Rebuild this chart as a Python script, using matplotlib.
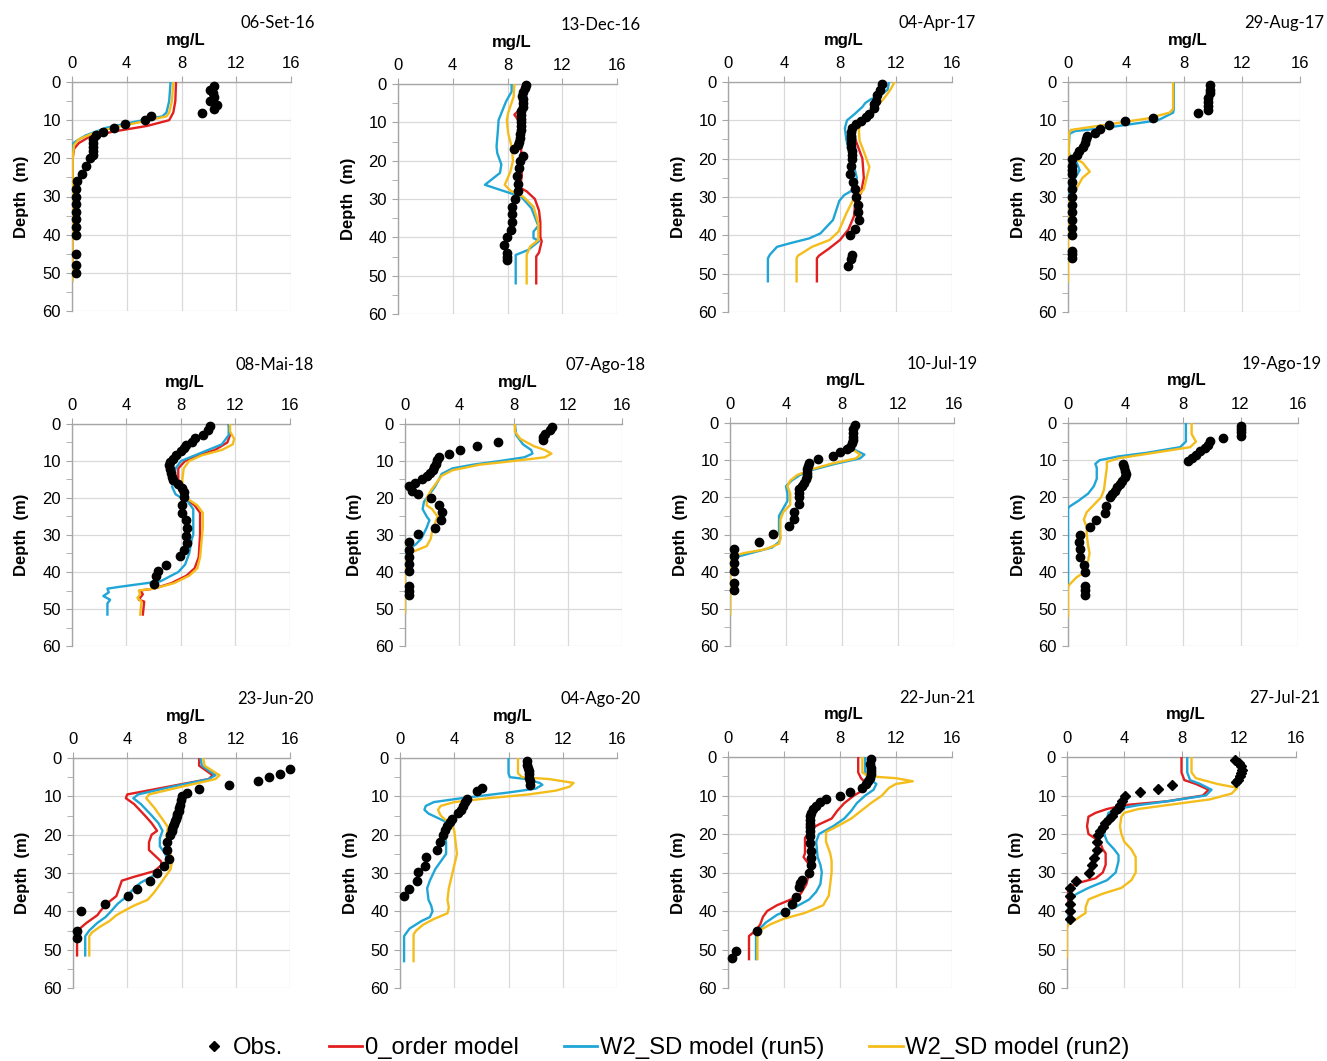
import matplotlib
matplotlib.use("Agg")
import matplotlib.pyplot as plt
from matplotlib.lines import Line2D
from matplotlib.ticker import MultipleLocator

# --- data: (value mg/L, depth m) ---
dates = ["06-Set-16", "13-Dec-16", "04-Apr-17", "29-Aug-17",
         "08-Mai-18", "07-Ago-18", "10-Jul-19", "19-Ago-19",
         "23-Jun-20", "04-Ago-20", "22-Jun-21", "27-Jul-21"]

sep16_obs = [(10.4, 1), (10.1, 2), (10.3, 3), (10.4, 4), (10.1, 5), (10.6, 6), (10.4, 7), (9.5, 8),
             (5.8, 9), (5.3, 10), (3.9, 11), (3.1, 12), (2.25, 13), (1.75, 14), (1.5, 15), (1.5, 16),
             (1.55, 17), (1.55, 18), (1.5, 19), (1.3, 20), (1.0, 22), (0.75, 24), (0.4, 26), (0.3, 28),
             (0.3, 30), (0.3, 32), (0.3, 34), (0.3, 36), (0.3, 38), (0.3, 40), (0.3, 45), (0.3, 48), (0.3, 50)]
sep16_red = [(7.6, 0), (7.55, 5), (7.4, 8), (7.1, 10), (5.5, 11.5), (3.0, 13), (1.2, 14.5), (0.5, 16),
             (0.15, 17.5), (0.05, 20), (0, 52)]
sep16_blue = [(7.2, 0), (7.1, 5), (6.9, 8), (6.6, 9), (4.5, 10.5), (2.5, 12), (1.0, 14), (0.3, 15.5),
              (0.1, 16), (0, 20), (0, 52)]
sep16_yel = [(7.4, 0), (7.3, 5), (7.1, 8), (6.9, 9), (5.0, 10.5), (3.0, 12), (1.5, 13.5), (0.5, 15),
             (0.15, 16.5), (0.05, 20), (0, 52)]

dec16_obs = [(9.35, 0.3), (9.3, 1), (9.1, 2), (9.05, 3), (9.1, 4), (9.1, 5), (9.1, 6), (9.0, 7), (8.95, 8),
             (8.95, 9), (9.0, 10), (8.95, 11), (9.0, 12), (8.9, 13), (8.9, 14), (8.85, 15), (8.8, 16),
             (8.5, 17), (9.1, 18.7), (8.9, 20), (8.85, 22), (8.7, 24), (8.75, 26), (8.8, 28), (8.55, 30),
             (8.35, 32), (8.3, 34), (8.3, 36), (8.25, 38), (7.95, 40), (7.75, 42), (7.95, 44), (7.95, 45),
             (7.95, 46)]
dec16_red = [(9.3, 0), (9.1, 5), (8.8, 7), (8.5, 8), (8.9, 10), (9.1, 12), (9.0, 15), (9.0, 20), (9.05, 24),
             (8.9, 27), (9.4, 28), (10.0, 30), (10.3, 33), (10.4, 36), (10.4, 40), (10.5, 41), (10.3, 44),
             (10.1, 45), (10.1, 52)]
dec16_blue = [(8.3, 0), (8.3, 2), (7.9, 4.5), (7.35, 9.4), (7.3, 12), (7.2, 16.3), (7.25, 18), (7.55, 21),
              (7.45, 23.2), (6.35, 26.3), (7.45, 27.6), (9.0, 29.4), (9.75, 32.4), (10.25, 37), (9.9, 38.5),
              (9.9, 40.2), (10.3, 41), (9.5, 43.3), (8.6, 44.6), (8.6, 52)]
dec16_yel = [(8.5, 0), (8.45, 3.3), (8.05, 7.5), (7.95, 9.4), (8.05, 12.9), (8.3, 16.3), (8.4, 20),
             (8.2, 23), (7.8, 26.3), (8.2, 27.8), (9.15, 29.4), (9.9, 32), (10.25, 36.3), (10.25, 40.7),
             (9.65, 42.4), (9.4, 44.6), (9.4, 52)]

apr17_obs = [(10.98, 0.6), (10.83, 2.2), (10.64, 3.5), (10.6, 4.9), (10.43, 5.8), (10.4, 6.9), (10.1, 8.4),
             (9.88, 9.2), (9.52, 10.1), (9.17, 11), (8.88, 12), (8.8, 13.1), (8.8, 14), (8.8, 15), (8.75, 16),
             (8.8, 17), (8.85, 18), (8.85, 19), (8.85, 20), (8.76, 22), (8.7, 24), (8.93, 26), (9.05, 28),
             (9.17, 30), (9.3, 32), (9.3, 34), (9.36, 36), (9.1, 38.3), (8.7, 40), (8.88, 45.2), (8.8, 46.2),
             (8.6, 48.1)]
apr17_red = [(11.0, 0), (10.8, 3), (10.5, 6), (10.0, 9), (9.3, 11), (9.0, 12), (9.1, 15), (9.6, 20),
             (9.7, 25), (9.5, 29), (9.1, 31), (9.0, 35), (8.6, 38.5), (8.0, 41.2), (7.2, 43.5), (6.5, 45.3),
             (6.35, 46), (6.35, 52)]
apr17_blue = [(11.5, 0), (11.4, 2), (10.9, 3.5), (10.2, 4.5), (9.8, 5.5), (9.6, 6.5), (9.0, 8.5), (8.5, 10),
              (8.35, 12), (8.45, 15), (8.7, 19), (9.0, 22), (9.2, 25), (9.0, 28), (8.3, 29.5), (7.95, 31),
              (7.5, 36), (6.6, 39.5), (5.8, 40.8), (4.5, 42), (3.5, 43), (3.0, 45), (2.85, 46), (2.85, 52)]
apr17_yel = [(11.9, 0), (11.6, 2), (11.2, 4), (10.5, 7), (9.9, 10), (9.4, 11), (9.35, 12.7), (9.4, 15.3),
             (9.76, 18.7), (10.1, 22.2), (9.9, 25), (9.7, 28), (9.2, 30), (8.93, 30.8), (8.45, 34.3),
             (7.9, 39), (7.26, 41.2), (6.0, 43), (5.0, 45.3), (4.9, 46), (4.9, 52)]

aug17_obs = [(9.76, 0.9), (9.76, 2), (9.76, 3), (9.64, 4.2), (9.64, 5.2), (9.64, 6.3), (9.64, 7.4),
             (8.98, 8.2), (5.85, 9.3), (3.9, 10.1), (2.8, 11.1), (2.18, 12.2), (1.84, 13.2), (1.3, 14.1),
             (1.26, 15), (1.15, 16), (1.03, 17), (0.76, 18), (0.62, 19), (0.25, 20), (0.25, 22), (0.25, 23),
             (0.25, 24), (0.25, 26), (0.25, 28), (0.25, 30), (0.25, 32), (0.25, 34), (0.25, 36), (0.25, 38),
             (0.25, 40), (0.25, 44), (0.25, 45), (0.25, 46)]
aug17_red = []
aug17_blue = [(7.3, 0), (7.3, 7), (7.25, 8), (6.2, 10), (2.5, 12), (0.5, 12.8), (0.1, 13.5), (0.05, 18),
              (0.1, 19), (0.6, 21), (0.8, 23), (0.5, 25), (0.05, 27), (0, 30), (0, 35)]
aug17_yel = [(7.25, 0), (7.25, 7), (7.0, 8), (5.5, 9.5), (2.0, 11.5), (0.2, 12.5), (0.05, 13.5), (0.05, 19),
             (0.2, 19.5), (1.0, 21), (1.5, 23.4), (1.0, 25), (0.7, 27), (0.4, 29), (0, 30), (0, 52)]

may18_obs = [(10.1, 0.6), (10.0, 1.7), (9.6, 3), (9.0, 3.9), (8.8, 4.8), (8.4, 5.7), (8.2, 6.5), (8.0, 7.4),
             (7.6, 8.4), (7.4, 9.4), (7.2, 10.2), (7.1, 11.1), (7.2, 12.1), (7.3, 13.2), (7.35, 14.2),
             (7.4, 15.2), (7.8, 16.3), (8.1, 17.4), (8.2, 18.5), (8.2, 19.6), (8.1, 21.9), (8.1, 24.1),
             (8.4, 25.9), (8.45, 28.2), (8.4, 30.4), (8.45, 32.2), (8.25, 34), (7.9, 35.8), (6.9, 38),
             (6.3, 39.8), (6.2, 41.2), (6.0, 43.2)]
may18_red = [(11.5, 0), (11.6, 3), (11.4, 5), (10.5, 7), (9.3, 8.5), (8.3, 10), (7.8, 12), (7.8, 15),
             (7.9, 18), (8.2, 20), (9.0, 22), (9.4, 24), (9.4, 30), (9.3, 36), (9.0, 39), (8.4, 41),
             (7.3, 43), (6.0, 44.5), (5.0, 45), (5.2, 46), (4.9, 47.5), (5.3, 48), (5.2, 51.5)]
may18_blue = [(11.5, 0), (11.5, 3), (11.0, 5.5), (10.0, 7), (9.0, 8.5), (8.0, 10), (7.6, 12), (7.5, 15),
              (7.35, 17), (7.6, 19), (8.5, 21), (8.9, 23), (8.9, 30), (8.8, 31), (8.6, 35), (8.3, 38),
              (7.8, 40), (6.5, 42.5), (5.5, 43), (3.5, 44), (2.6, 44.5), (2.7, 45.5), (2.3, 46.5),
              (2.8, 47.5), (2.6, 48.5), (2.6, 51.5)]
may18_yel = [(11.6, 0), (11.6, 2), (11.9, 4), (11.8, 5.5), (11.0, 7), (9.5, 8.5), (8.6, 10), (8.2, 12),
             (8.1, 15), (8.1, 18), (8.4, 20), (9.2, 22), (9.6, 24), (9.6, 28), (9.5, 32), (9.4, 36),
             (9.2, 39), (8.6, 41), (7.5, 43), (6.0, 44.5), (4.9, 45), (5.0, 46), (4.8, 47), (5.1, 48),
             (5.0, 51.5)]

ago18_obs = [(10.87, 0.8), (10.67, 1.7), (10.3, 2.6), (10.2, 3.5), (10.2, 4.2), (6.87, 4.9), (5.28, 6),
             (4.05, 6.9), (3.24, 8), (2.5, 8.9), (2.38, 9.8), (2.26, 10.7), (2.13, 11.6), (2.04, 12.3),
             (1.84, 13.2), (1.6, 14.1), (1.23, 15), (0.74, 15.9), (0.3, 16.8), (0.5, 18.1), (0.98, 19),
             (1.9, 19.9), (2.53, 21.9), (2.7, 23.9), (2.62, 25.9), (2.2, 28), (0.98, 29.8), (0.3, 31.9),
             (0.3, 34), (0.3, 36), (0.3, 37.8), (0.3, 39.8), (0.3, 43.9), (0.3, 45), (0.3, 46.1)]
ago18_red = []
ago18_blue = [(8.1, 0), (8.2, 3), (8.7, 5.5), (9.3, 7), (9.4, 8), (8.8, 9), (7.0, 10), (5.0, 11), (3.5, 12),
              (2.7, 13.5), (2.5, 15), (2.2, 17), (1.8, 19), (1.4, 21), (1.3, 23), (1.6, 25), (1.8, 26),
              (1.6, 28), (1.2, 31), (0.8, 32.5), (0.4, 33.5), (0.1, 34.5), (0, 36), (0, 51)]
ago18_yel = [(8.1, 0), (8.1, 2), (8.5, 4), (9.5, 6), (10.3, 7), (10.8, 8), (10.3, 9), (8.0, 10), (5.5, 11),
             (3.5, 12.5), (2.7, 14), (2.3, 16), (1.9, 18), (1.6, 20), (1.6, 22), (2.0, 23), (2.4, 25),
             (2.2, 27), (2.0, 29), (1.9, 31), (1.6, 33), (0.6, 34.5), (0.1, 35.5), (0, 40), (0, 51)]

jul19_obs = [(8.92, 0.5), (8.8, 1.7), (8.75, 2.6), (8.75, 3.7), (8.75, 4.6), (8.68, 5.5), (8.56, 6.4),
             (8.39, 7.1), (7.85, 7.8), (7.37, 8.9), (6.28, 9.8), (5.66, 10.7), (5.59, 11.6), (5.52, 12.5),
             (5.47, 13.4), (5.47, 14.3), (5.42, 15.2), (5.3, 16.1), (5.11, 17), (4.94, 17.8), (4.94, 18.7),
             (4.94, 19.8), (4.94, 21.9), (4.56, 23.9), (4.56, 25.7), (4.2, 27.7), (3.09, 29.8), (2.07, 31.9),
             (0.28, 34), (0.28, 35.8), (0.28, 37.8), (0.28, 39.8), (0.28, 43), (0.28, 45)]
jul19_red = []
jul19_blue = [(8.7, 0), (8.8, 7), (9.6, 8.5), (9.3, 9.5), (7.5, 11), (6.0, 12.5), (5.0, 14), (4.4, 15.5),
              (4.0, 17), (4.1, 19), (4.1, 21), (3.8, 23), (3.5, 25), (3.5, 29), (3.6, 31), (3.5, 32),
              (3.0, 33.5), (1.5, 35), (0.3, 36.2), (0.1, 37), (0, 40), (0, 51.5)]
jul19_yel = [(8.7, 0), (8.7, 7), (9.3, 8.5), (9.0, 9.5), (7.2, 11), (5.8, 12.5), (4.8, 14), (4.3, 15.5),
             (4.1, 17), (4.3, 19), (4.3, 22), (3.8, 24), (3.6, 26), (3.6, 31), (3.5, 32.5), (2.5, 34),
             (1.0, 35), (0.2, 35.8), (0, 37), (0, 51.5)]

ago19_obs = [(12.0, 0.7), (12.0, 1.6), (12.0, 2.5), (12.0, 3.4), (10.8, 4), (9.86, 4.9), (9.74, 5.8),
             (9.5, 6.7), (9.2, 7.6), (8.93, 8.5), (8.65, 9.4), (8.35, 10.3), (3.83, 11), (3.87, 11.9),
             (3.94, 12.8), (4.0, 13.7), (3.94, 14.6), (3.78, 15.5), (3.64, 16.4), (3.4, 17.3), (3.25, 18.2),
             (3.09, 19.1), (2.9, 19.9), (2.67, 22.2), (2.55, 24.2), (1.97, 26.2), (1.55, 28), (0.81, 30),
             (0.74, 32), (0.81, 34), (0.86, 36), (1.11, 38.1), (1.16, 40.1), (1.16, 43.9), (1.16, 45),
             (1.16, 46.2)]
ago19_red = []
ago19_blue = [(8.2, 0), (8.2, 5), (7.8, 6.5), (5.5, 8), (3.5, 9), (2.2, 10), (1.9, 11), (2.0, 12), (2.0, 15),
              (1.8, 17), (1.4, 19), (0.7, 21), (0.1, 22.5), (0, 23), (0, 44)]
ago19_yel = [(8.6, 0), (8.6, 3), (8.9, 5), (8.5, 6.5), (6.0, 8), (3.5, 9.5), (2.7, 10.5), (2.7, 12),
             (2.6, 15), (2.5, 18), (2.3, 20), (1.8, 22), (1.3, 24), (1.1, 26), (1.3, 28), (1.3, 30),
             (1.4, 33), (1.5, 35), (1.4, 37), (1.0, 40.5), (0.6, 41.5), (0.1, 43.5), (0, 44), (0, 52)]

jun20_obs = [(15.97, 2.9), (15.26, 4.2), (14.44, 5), (13.65, 6.1), (11.48, 7.1), (9.31, 8), (8.44, 9.1),
             (8.0, 10), (7.95, 11), (7.9, 12.2), (7.85, 13), (7.78, 13.9), (7.7, 14.6), (7.65, 15.2),
             (7.6, 15.9), (7.53, 16.5), (7.45, 17.2), (7.4, 17.8), (7.33, 18.4), (7.28, 19), (7.16, 20),
             (6.91, 22), (6.91, 24.1), (7.1, 26.3), (6.7, 28.1), (6.2, 30), (5.68, 32.2), (4.74, 34.2),
             (4.07, 36.1), (2.35, 38.1), (0.62, 40), (0.3, 45), (0.3, 47)]
jun20_red = [(9.3, 0), (9.3, 2), (10.3, 4.5), (10.0, 5.5), (7.0, 7.5), (4.0, 9.5), (3.9, 10.5), (4.5, 12),
             (5.3, 15), (5.8, 17), (6.2, 19), (5.8, 20), (5.6, 22), (5.6, 24), (5.9, 25), (6.5, 27),
             (6.5, 28), (6.0, 29.5), (4.5, 31), (3.6, 32), (3.4, 34), (3.2, 36), (2.5, 38), (2.0, 40),
             (1.8, 41), (1.0, 43), (0.5, 44.5), (0.3, 45.5), (0.3, 51.5)]
jun20_blue = [(9.4, 0), (9.5, 2), (10.5, 4.5), (10.0, 5.5), (7.3, 7.5), (4.8, 9.5), (4.45, 10.5), (5.0, 12),
              (5.8, 15), (6.3, 17), (6.6, 19), (6.4, 21), (6.4, 23), (6.8, 25), (7.0, 27), (6.8, 28),
              (6.5, 29), (5.8, 31), (5.0, 32.5), (4.5, 34), (4.0, 36), (3.3, 38), (2.8, 40), (2.4, 41.5),
              (1.8, 43), (1.2, 45), (0.9, 46.5), (0.9, 51.5)]
jun20_yel = [(9.6, 0), (9.7, 2), (10.8, 4.5), (10.5, 5.5), (8.0, 7.5), (5.6, 9.5), (5.4, 10.5), (6.0, 13),
             (6.6, 16), (7.0, 18), (6.9, 20), (6.9, 22), (7.2, 25), (7.3, 27), (7.2, 29), (6.8, 31),
             (6.4, 33), (6.0, 35), (5.5, 37), (4.5, 38.5), (3.7, 40), (3.2, 41), (2.7, 42.5), (2.0, 44),
             (1.4, 45.5), (1.2, 46.5), (1.2, 51.5)]

ago20_obs = [(9.4, 0.7), (9.4, 1.7), (9.43, 2.6), (9.48, 3.5), (9.48, 4.3), (9.53, 5.2), (9.56, 6.1),
             (9.56, 7), (6.03, 7.8), (5.67, 8.7), (4.93, 10.7), (4.8, 11.6), (4.63, 12.6), (4.48, 13.5),
             (4.31, 14.3), (3.84, 15.9), (3.65, 16.8), (3.45, 17.8), (3.33, 18.9), (3.2, 20), (2.96, 22),
             (2.7, 24.1), (1.92, 25.9), (1.85, 28.1), (1.35, 29.8), (1.23, 32.2), (0.67, 34.1), (0.3, 36.1)]
ago20_red = []
ago20_blue = [(8.0, 0), (8.0, 4), (8.1, 5), (9.3, 5.5), (10.3, 6.5), (10.5, 7), (10.0, 8), (8.0, 9),
              (4.5, 10.5), (2.5, 11.5), (1.9, 12.5), (1.8, 13.5), (2.1, 14.5), (2.7, 15.5), (3.3, 16.5),
              (3.4, 18), (3.3, 20), (3.4, 22), (3.4, 25), (3.0, 27), (2.6, 29), (2.2, 32), (2.0, 34),
              (2.1, 37), (2.3, 38.5), (2.4, 40), (2.2, 41.5), (1.6, 42.5), (0.7, 44.5), (0.5, 45.5),
              (0.3, 46.5), (0.3, 53)]
ago20_yel = [(8.7, 0), (8.7, 4), (9.0, 5), (11.0, 5.5), (12.8, 6.5), (12.5, 7.5), (11.5, 8.5), (9.5, 9.5),
             (6.5, 10.5), (4.0, 11.5), (3.0, 12.5), (2.8, 13.5), (3.0, 15), (3.3, 16), (3.8, 17), (4.0, 19),
             (4.1, 22), (4.2, 25), (4.0, 28), (3.8, 31), (3.6, 34), (3.5, 37), (3.6, 39), (3.5, 40.5),
             (2.5, 42), (1.7, 43.5), (1.2, 45), (1.0, 46), (1.0, 53)]

jun21_obs = [(10.19, 0.6), (10.17, 1.9), (10.19, 2.8), (10.24, 3.7), (10.24, 4.5), (10.17, 5.4), (10.0, 6.3),
             (9.83, 7.1), (9.55, 8), (8.74, 9.1), (7.98, 10.2), (6.98, 10.9), (6.55, 11.7), (6.31, 12.6),
             (6.07, 13.5), (5.95, 14.5), (5.88, 15.4), (5.88, 16.3), (5.88, 17.3), (5.88, 18.2), (5.88, 19.3),
             (5.88, 20.4), (5.88, 22.3), (5.9, 24.3), (5.9, 26.3), (5.9, 28), (5.76, 30), (5.29, 31.9),
             (5.17, 32.8), (5.07, 33.8), (4.83, 36.3), (4.57, 38.3), (4.05, 40.3), (2.07, 45.1), (0.55, 50.3),
             (0.29, 52.1)]
jun21_red = [(9.3, 0), (9.3, 4), (9.5, 5.5), (9.9, 7), (9.7, 8.5), (9.0, 10), (8.3, 12), (7.8, 14), (7.4, 16),
             (6.5, 17.5), (6.0, 18.5), (5.7, 20), (5.5, 21), (5.5, 25), (5.4, 26), (5.6, 27), (5.8, 28),
             (5.8, 30), (5.6, 33), (5.2, 35.5), (4.5, 37), (3.5, 38.5), (2.8, 40), (2.5, 41.5), (2.3, 43.5),
             (2.0, 45), (1.5, 46.5), (1.5, 52.5)]
jun21_blue = [(9.8, 0), (9.8, 4), (10.0, 5.5), (10.6, 7), (10.4, 8.5), (9.8, 10), (9.2, 12), (8.8, 14),
              (8.3, 16), (7.5, 18), (7.0, 19), (6.5, 20), (6.3, 22), (6.4, 26), (6.6, 28), (6.7, 30),
              (6.6, 33), (6.3, 35), (5.8, 37), (4.8, 39), (3.5, 41), (2.7, 43), (2.3, 44.5), (2.0, 46.5),
              (2.0, 52.5)]
jun21_yel = [(9.6, 0), (9.6, 4), (10.0, 5), (12.0, 5.5), (13.2, 6.3), (12.0, 7), (11.5, 8), (11.0, 10),
             (10.2, 12), (9.5, 14), (8.8, 16), (7.8, 18), (7.0, 19.5), (7.0, 22), (7.3, 25), (7.4, 27),
             (7.4, 30), (7.3, 33), (7.2, 36), (6.8, 38.5), (5.5, 40.5), (4.0, 42), (3.0, 43.5), (2.3, 45),
             (2.1, 46.5), (2.1, 52.5)]

jul21_obs = [(11.72, 0.7), (12.0, 1.6), (12.18, 2.4), (12.23, 3.3), (12.18, 4.2), (12.06, 5), (11.95, 5.9),
             (11.83, 6.5), (7.36, 7.4), (6.33, 8.2), (5.1, 9.2), (4.06, 10.2), (3.83, 11.3), (3.71, 12.4),
             (3.6, 13.2), (3.36, 14.1), (3.13, 15.2), (2.9, 16.1), (2.67, 17.1), (2.5, 18.2), (2.32, 19.1),
             (2.2, 20.2), (2.13, 22.2), (2.09, 24.1), (1.86, 26.2), (1.74, 28.1), (1.51, 30.1), (0.65, 32.1),
             (0.23, 34), (0.23, 36), (0.23, 38.1), (0.23, 40.1), (0.23, 42.1)]
jul21_red = [(8.0, 0), (8.0, 4), (8.2, 6), (9.0, 7), (9.9, 8.5), (9.5, 10), (7.0, 11.5), (4.0, 12.5),
             (2.8, 13.5), (2.0, 14.5), (1.5, 15.5), (1.4, 18), (1.5, 20), (1.9, 21), (2.3, 22), (2.5, 24),
             (2.7, 25), (2.7, 28), (2.5, 30), (2.0, 31.5), (1.0, 32.5), (0.3, 33.5), (0, 35), (0, 44)]
jul21_blue = [(8.4, 0), (8.4, 4), (8.6, 6), (9.3, 7), (10.1, 8.5), (9.7, 10), (7.0, 11.5), (5.0, 12.5),
              (3.5, 13.5), (2.9, 14.5), (2.7, 17), (2.6, 20), (2.8, 22), (3.3, 24), (3.6, 25.5), (3.6, 27),
              (3.4, 30), (2.8, 32), (1.5, 34), (0.7, 35.5), (0.3, 36.5), (0.1, 38), (0, 44)]
jul21_yel = [(8.7, 0), (8.7, 4), (9.0, 5.5), (10.5, 7), (11.9, 8), (11.5, 9.5), (10.0, 11), (7.0, 12.5),
             (5.0, 13.5), (4.0, 14.5), (3.8, 15.5), (3.7, 18), (3.8, 20), (4.0, 22), (4.5, 24), (4.8, 26),
             (4.8, 30), (4.5, 32), (3.8, 34), (2.5, 35.5), (1.5, 37), (1.3, 39), (1.3, 40.5), (0.9, 41.5),
             (0.5, 42.5), (0.1, 43.5), (0, 44), (0, 52)]

obs_sets = [sep16_obs, dec16_obs, apr17_obs, aug17_obs, may18_obs, ago18_obs,
            jul19_obs, ago19_obs, jun20_obs, ago20_obs, jun21_obs, jul21_obs]
red_sets = [sep16_red, dec16_red, apr17_red, aug17_red, may18_red, ago18_red,
            jul19_red, ago19_red, jun20_red, ago20_red, jun21_red, jul21_red]
blue_sets = [sep16_blue, dec16_blue, apr17_blue, aug17_blue, may18_blue, ago18_blue,
             jul19_blue, ago19_blue, jun20_blue, ago20_blue, jun21_blue, jul21_blue]
yel_sets = [sep16_yel, dec16_yel, apr17_yel, aug17_yel, may18_yel, ago18_yel,
            jul19_yel, ago19_yel, jun20_yel, ago20_yel, jun21_yel, jul21_yel]

legend_labels = ["Obs.", "0_order model", "W2_SD model (run5)", "W2_SD model (run2)"]

# --- layout (pixel boxes of each plot area: x0, x1, y_top, y_bottom) ---
W, H = 1327, 1061
boxes = [(72, 291, 82, 311), (398, 617, 84, 314), (728, 952, 82, 312), (1068, 1300, 82, 312),
         (72, 290, 424, 646), (405, 622, 424, 646), (730, 954, 423, 646), (1068, 1298, 423, 646),
         (73, 290, 758, 988), (400, 617, 758, 988), (728, 952, 757, 988), (1067, 1296, 757, 988)]

RED = "#E21F1F"
BLUE = "#1FA6D6"
YEL = "#F4BD1C"
GRID = "#D9D9D9"
AXC = "#A6A6A6"

plt.rcParams['font.family'] = ['Liberation Sans', 'DejaVu Sans']

fig = plt.figure(figsize=(W / 100, H / 100), dpi=100)

for i in range(12):
    x0, x1, yt, yb = boxes[i]
    ax = fig.add_axes([x0 / W, 1 - yb / H, (x1 - x0) / W, (yb - yt) / H])
    ax.set_xlim(0, 16)
    ax.set_ylim(60, 0)
    ax.xaxis.tick_top()
    ax.set_xticks([0, 4, 8, 12, 16])
    ax.yaxis.set_major_locator(MultipleLocator(10))
    ax.yaxis.set_minor_locator(MultipleLocator(5))
    ax.grid(True, which='major', color=GRID, lw=0.9)
    ax.set_axisbelow(True)
    for s in ('right', 'bottom'):
        ax.spines[s].set_visible(False)
    for s in ('left', 'top'):
        ax.spines[s].set_color(AXC)
        ax.spines[s].set_linewidth(1.0)
    ax.tick_params(axis='x', which='both', top=True, bottom=False, direction='out',
                   length=4, color=AXC, labelsize=12, pad=4)
    ax.tick_params(axis='y', which='both', direction='out', length=4, color=AXC,
                   labelsize=12, pad=4)

    for series, col in ((red_sets[i], RED), (blue_sets[i], BLUE), (yel_sets[i], YEL)):
        if series:
            v, z = zip(*series)
            ax.plot(v, z, color=col, lw=1.7, solid_joinstyle='round', zorder=3)
    v, z = zip(*obs_sets[i])
    if i == 11:
        ax.plot(v, z, ls='none', marker='D', ms=5, color='black', zorder=4, clip_on=False)
    else:
        ax.plot(v, z, ls='none', marker='o', ms=6, color='black', zorder=4, clip_on=False)

    cx = (x0 + x1) / 2 + 4
    fig.text(cx / W, 1 - (yt - 42) / H, "mg/L", ha='center', va='center',
             fontsize=12, fontweight='bold')
    fig.text((x0 - 50) / W, 1 - ((yt + yb) / 2) / H, "Depth  (m)", ha='center', va='center',
             rotation=90, fontsize=12, fontweight='bold')
    fig.text((x1 + 24) / W, 1 - (yt - 59) / H, dates[i], ha='right', va='center',
             fontsize=12, family=['Lato', 'DejaVu Sans'])

handles = [Line2D([], [], ls='none', marker='D', ms=5, color='black'),
           Line2D([], [], color=RED, lw=2),
           Line2D([], [], color=BLUE, lw=2),
           Line2D([], [], color=YEL, lw=2)]
fig.legend(handles, legend_labels, loc='center', bbox_to_anchor=(0.500, 1 - 1048 / H), ncol=4,
           frameon=False, fontsize=17.2, handlelength=1.4, handletextpad=0.1, columnspacing=1.9)

fig.savefig("out.png", dpi=100)
